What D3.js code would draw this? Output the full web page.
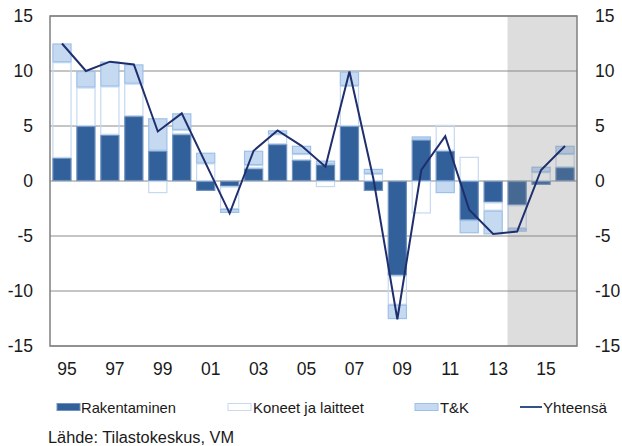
<!DOCTYPE html>
<html><head><meta charset="utf-8">
<script src="https://cdn.jsdelivr.net/npm/d3@7"></script>
<style>
body{margin:0;background:#fff;}
text{font-family:"Liberation Sans",Arial,sans-serif;fill:#1a1a1a;}
</style></head>
<body><svg id="c" width="622" height="446"></svg>
<script>
const years = [1995,1996,1997,1998,1999,2000,2001,2002,2003,2004,2005,2006,2007,2008,2009,2010,2011,2012,2013,2014,2015,2016];
const rakentaminen = [2.1,5.0,4.2,5.9,2.75,4.25,-0.9,-0.5,1.15,3.35,1.9,1.5,5.0,-0.9,-8.6,3.75,2.75,-3.55,-1.95,-2.2,-0.35,1.25];
const koneet =       [8.7,3.5,4.4,2.95,-1.1,0.4,1.6,-2.05,0.3,0.9,0.55,-0.55,3.65,0.65,-2.65,-2.95,2.35,2.2,-0.75,-2.1,0.8,1.2];
const tk =           [1.7,1.5,2.25,1.75,2.95,1.5,0.97,-0.35,1.3,0.35,0.75,0.35,1.3,0.45,-1.3,0.3,-1.1,-1.2,-2.15,-0.3,0.5,0.75];
const yhteensa =     [12.5,10.0,10.85,10.6,4.5,6.15,1.6,-2.94,2.75,4.6,3.2,1.3,9.95,0.2,-12.57,1.0,4.08,-2.6,-4.82,-4.6,1.0,3.18];
const yTicks = [-15,-10,-5,0,5,10,15];
const xTickYears = [1995,1997,1999,2001,2003,2005,2007,2009,2011,2013,2015];
const forecastStart = 2014;
const seriesNames = ["Rakentaminen","Koneet ja laitteet","T&K","Yhteensä"];

const svg = d3.select("#c");
const L=50,R=577,T=16,B=346;
const x = d3.scaleBand().domain(years).range([L,R]).paddingInner(0.2).paddingOuter(0.1);
const y = d3.scaleLinear().domain([-15,15]).range([B,T]);

// grid
svg.append("g").selectAll("line").data(yTicks).join("line")
  .attr("x1",L).attr("x2",R).attr("y1",d=>y(d)).attr("y2",d=>y(d))
  .attr("stroke","#8c8c8c").attr("stroke-width",1);

// stacked bars (positives up, negatives down)
const series = [
  {vals:rakentaminen, fill:"#31609a", stroke:"#6f93c0"},
  {vals:koneet, fill:"none", stroke:"#c5d9f1"},
  {vals:tk, fill:"#c5d9f1", stroke:"#9dc0e8"}
];
const rects=[];
years.forEach((yr,i)=>{
  let pos=0,neg=0;
  series.forEach(s=>{
    const v=s.vals[i];
    let y0,y1;
    if(v>=0){y0=pos;y1=pos+v;pos=y1;}else{y0=neg;y1=neg+v;neg=y1;}
    rects.push({yr,y0,y1,s});
  });
});
svg.append("g").selectAll("rect").data(rects).join("rect")
  .attr("x",d=>x(d.yr)+0.5).attr("width",x.bandwidth()-1)
  .attr("y",d=>y(Math.max(d.y0,d.y1))+0.5)
  .attr("height",d=>Math.max(0,Math.abs(y(d.y0)-y(d.y1))-1))
  .attr("fill",d=>d.s.fill).attr("stroke",d=>d.s.stroke).attr("stroke-width",1.2);

// forecast shading
svg.append("rect").attr("x",x(forecastStart)).attr("y",T).attr("width",R-x(forecastStart)).attr("height",B-T)
  .attr("fill","#808080").attr("fill-opacity",0.27);

// line
const line = d3.line().x((d,i)=>x(years[i])+x.bandwidth()/2).y(d=>y(d));
svg.append("path").datum(yhteensa).attr("d",line).attr("fill","none")
  .attr("stroke","#1f2f6e").attr("stroke-width",2);

// frame
svg.append("rect").attr("x",L).attr("y",T).attr("width",R-L).attr("height",B-T)
  .attr("fill","none").attr("stroke","#7f7f7f").attr("stroke-width",1.5);

// axes labels
const yl = svg.append("g");
yl.selectAll("text.l").data(yTicks).join("text").attr("class","l")
  .attr("x",33).attr("y",d=>y(d)).attr("text-anchor","end").attr("dominant-baseline","central")
  .style("font-size","17.5px").text(d=>d);
yl.selectAll("text.r").data(yTicks).join("text").attr("class","r")
  .attr("x",595).attr("y",d=>y(d)).attr("text-anchor","start").attr("dominant-baseline","central")
  .style("font-size","17.5px").text(d=>d);
svg.append("g").selectAll("text").data(xTickYears).join("text")
  .attr("x",d=>x(d)+x.bandwidth()/2+5).attr("y",375).attr("text-anchor","middle")
  .style("font-size","17.5px").text(d=>String(d).slice(2));

// legend
const lg = svg.append("g");
const items = [
  {name:seriesNames[0], sx:57, tx:81, w:95, type:"rect", fill:"#31609a", stroke:"#6f93c0"},
  {name:seriesNames[1], sx:228, tx:253, w:111, type:"rect", fill:"#fff", stroke:"#c5d9f1"},
  {name:seriesNames[2], sx:415, tx:440, w:29, type:"rect", fill:"#c5d9f1", stroke:"#9dc0e8"},
  {name:seriesNames[3], sx:520, tx:543, w:64, type:"line"}
];
items.forEach(it=>{
  if(it.type==="rect"){
    lg.append("rect").attr("x",it.sx).attr("y",403.5).attr("width",23).attr("height",7)
      .attr("fill",it.fill).attr("stroke",it.stroke).attr("stroke-width",1);
  } else {
    lg.append("line").attr("x1",it.sx).attr("x2",it.sx+22).attr("y1",407).attr("y2",407)
      .attr("stroke","#34528a").attr("stroke-width",2);
  }
  lg.append("text").attr("x",it.tx).attr("y",413).style("font-size","15px")
    .attr("textLength",it.w).attr("lengthAdjust","spacingAndGlyphs").text(it.name);
});
svg.append("text").attr("x",48).attr("y",443).style("font-size","16px")
  .attr("textLength",186).attr("lengthAdjust","spacingAndGlyphs").text("Lähde: Tilastokeskus, VM");
</script></body></html>
